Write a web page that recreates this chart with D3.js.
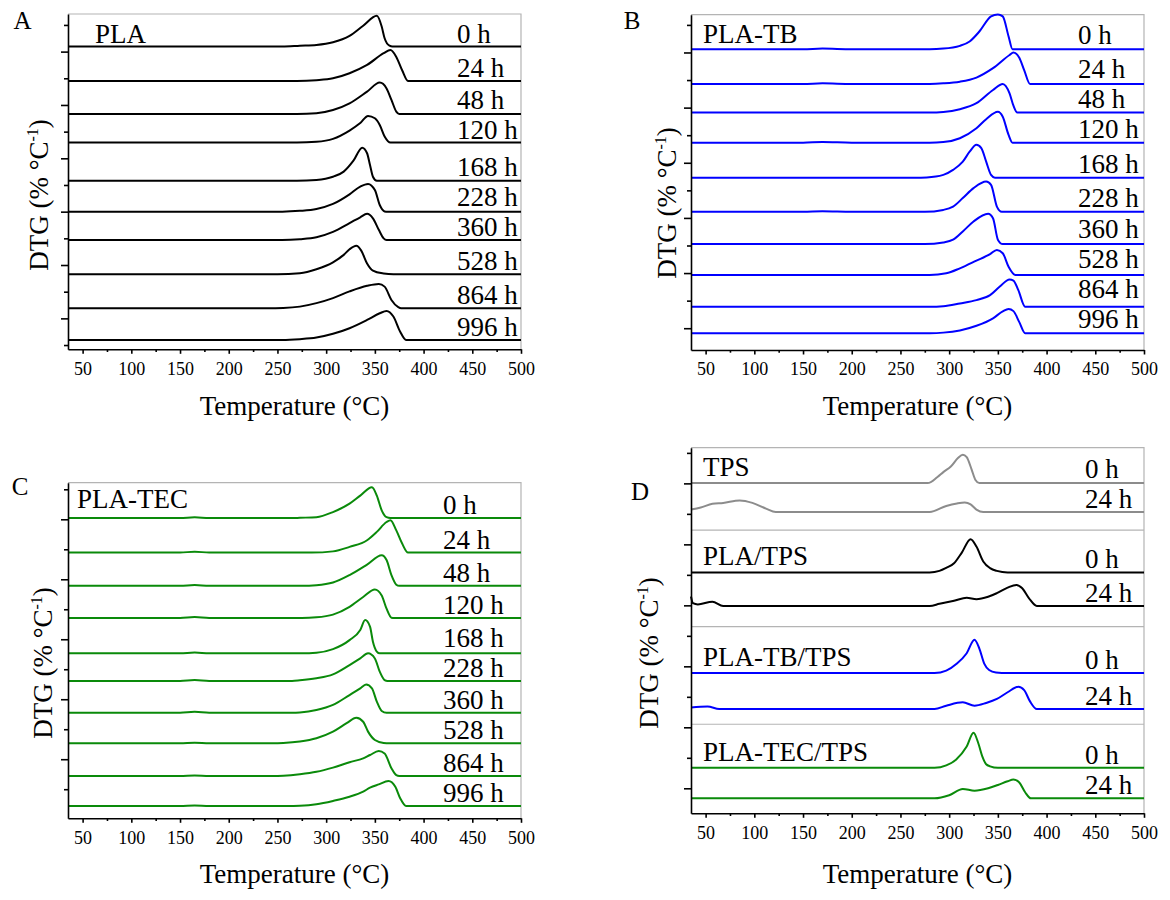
<!DOCTYPE html>
<html>
<head>
<meta charset="utf-8">
<script src="https://cdn.jsdelivr.net/npm/d3@7"></script>
<style>
    body { margin: 0; background: #fff; }
    svg { display: block; }
    text { font-family: "Liberation Serif", "Times New Roman", serif; fill: #000; }
</style>
</head>
<body>
<svg id="chart" width="1170" height="900"></svg>
<script>
// temperature axis, shared by all panels
const tempDomain = [35, 500];
const xTicks = [50, 100, 150, 200, 250, 300, 350, 400, 450, 500];
const xMinorTicks = [75, 125, 175, 225, 275, 325, 375, 425, 475];

// time labels
const hours = ["0 h", "24 h", "48 h", "120 h", "168 h", "228 h", "360 h", "528 h", "864 h", "996 h"];
const hoursD = ["0 h", "24 h", "0 h", "24 h", "0 h", "24 h", "0 h", "24 h"];

// vertical offsets of each trace (stacked, arbitrary units)
const offsetsA = [11.19, 9.9, 8.66, 7.59, 6.16, 5.0, 3.94, 2.65, 1.38, 0.19];
const offsetsB = [10.12, 8.86, 7.82, 6.73, 5.46, 4.22, 3.05, 1.93, 0.78, -0.18];
const offsetsC = [9.04, 7.89, 6.78, 5.71, 4.53, 3.61, 2.55, 1.53, 0.44, -0.56];
const offsetsD = [10.01, 9.06, 7.08, 5.98, 3.78, 2.6, 0.67, -0.33];

// DTG traces [temperature, height above own baseline]
const curvesA = [
    [[35,0],[255,0],[273,0.03],[290,0.06],[307,0.16],[324,0.4],[338,0.78],[352,1.15],[357,0.75],[360,0.31],[365,0.03],[368,0],[500,0]],
    [[35,0],[270,0],[290,0.03],[307,0.1],[324,0.29],[342,0.6],[359,1.04],[366,1.16],[372,0.9],[378,0.4],[384,0],[500,0]],
    [[35,0],[270,0],[290,0.03],[307,0.15],[324,0.4],[342,0.84],[355,1.18],[362,0.96],[367,0.53],[372,0.09],[375,0],[500,0]],
    [[35,0],[270,0],[290,0.03],[307,0.14],[324,0.45],[335,0.73],[343,1.0],[350,0.91],[355,0.66],[360,0.23],[366,0],[500,0]],
    [[35,0],[270,0],[290,0.03],[307,0.15],[318,0.34],[328,0.75],[337,1.24],[342,1.03],[345,0.59],[348,0.15],[352,0],[500,0]],
    [[35,0],[255,0],[273,0.03],[290,0.1],[307,0.29],[324,0.65],[335,0.94],[343,1.04],[350,0.81],[355,0.25],[360,0.01],[363,0],[500,0]],
    [[35,0],[255,0],[273,0.03],[290,0.1],[307,0.3],[324,0.63],[335,0.85],[342,0.98],[348,0.81],[354,0.38],[359,0.06],[362,0],[500,0]],
    [[35,0],[250,0],[273,0.04],[290,0.19],[307,0.45],[318,0.73],[324,0.94],[331,1.07],[336,0.89],[342,0.41],[348,0.14],[359,0.03],[369,0],[500,0]],
    [[35,0],[240,0],[256,0.01],[273,0.06],[290,0.19],[307,0.38],[324,0.63],[342,0.84],[354,0.91],[360,0.81],[367,0.31],[374,0.04],[377,0],[500,0]],
    [[35,0],[255,0],[273,0.03],[290,0.09],[307,0.23],[324,0.44],[342,0.75],[355,1.0],[362,1.09],[369,0.88],[376,0.31],[382,0],[500,0]]
];

const curvesB = [
    [[35,0],[150,0],[170,0.02],[200,0],[280,0],[294,0.02],[311,0.12],[321,0.28],[331,0.64],[343,1.19],[350,1.26],[355,1.19],[361,0.46],[365,0],[500,0]],
    [[35,0],[150,0],[170,0.02],[200,0],[280,0],[294,0.02],[311,0.08],[328,0.23],[345,0.57],[362,1.05],[366,1.14],[372,0.95],[377,0.5],[383,0],[500,0]],
    [[35,0],[280,0],[294,0.02],[311,0.12],[328,0.34],[345,0.82],[355,1.04],[362,0.7],[366,0.25],[370,0],[500,0]],
    [[35,0],[150,0],[170,0.02],[200,0],[280,0],[294,0.02],[311,0.16],[328,0.52],[338,0.85],[350,1.12],[355,0.94],[361,0.28],[365,0],[500,0]],
    [[35,0],[265,0],[277,0.01],[294,0.1],[304,0.28],[314,0.58],[321,0.94],[328,1.19],[333,1.07],[338,0.58],[343,0.1],[347,0],[500,0]],
    [[35,0],[150,0],[170,0.02],[200,0],[275,0],[294,0.07],[304,0.19],[314,0.5],[325,0.86],[338,1.1],[343,0.98],[349,0.19],[354,0],[500,0]],
    [[35,0],[275,0],[294,0.06],[304,0.16],[314,0.46],[325,0.82],[340,1.1],[345,0.94],[350,0.16],[355,0],[500,0]],
    [[35,0],[280,0],[297,0.06],[311,0.24],[328,0.52],[342,0.76],[349,0.91],[355,0.79],[361,0.3],[368,0],[500,0]],
    [[35,0],[280,0],[294,0.02],[311,0.12],[328,0.24],[342,0.42],[352,0.73],[362,0.99],[366,0.95],[371,0.6],[378,0],[500,0]],
    [[35,0],[280,0],[294,0.02],[311,0.1],[328,0.27],[345,0.54],[355,0.79],[361,0.88],[366,0.8],[372,0.4],[378,0],[500,0]]
];

const curvesC = [
    [[35,0],[150,0],[165,0.03],[180,0],[265,0],[273,0.01],[290,0.03],[307,0.2],[324,0.48],[335,0.75],[347,1.03],[352,0.75],[357,0.26],[362,0.03],[366,0],[500,0]],
    [[35,0],[150,0],[165,0.03],[180,0],[285,0],[307,0.04],[324,0.19],[342,0.41],[352,0.69],[362,1.02],[366,1.08],[372,0.74],[378,0.3],[384,0],[500,0]],
    [[35,0],[150,0],[165,0.03],[180,0],[275,0],[290,0.02],[307,0.11],[324,0.36],[342,0.71],[357,1.02],[362,0.86],[367,0.36],[372,0.04],[375,0],[500,0]],
    [[35,0],[150,0],[165,0.03],[180,0],[275,0],[290,0.02],[307,0.11],[324,0.37],[338,0.7],[350,0.95],[357,0.75],[362,0.31],[367,0.01],[370,0],[500,0]],
    [[35,0],[150,0],[165,0.03],[180,0],[275,0],[290,0.02],[307,0.14],[324,0.44],[335,0.78],[340,1.11],[345,0.89],[348,0.39],[352,0.06],[355,0],[500,0]],
    [[35,0],[150,0],[165,0.03],[180,0],[265,0],[273,0.02],[290,0.09],[307,0.22],[324,0.53],[335,0.75],[343,0.92],[350,0.75],[355,0.31],[360,0.03],[363,0],[500,0]],
    [[35,0],[150,0],[165,0.03],[180,0],[265,0],[273,0.01],[290,0.09],[307,0.26],[324,0.59],[335,0.81],[341,0.94],[347,0.81],[352,0.37],[357,0.06],[362,0],[500,0]],
    [[35,0],[150,0],[165,0.02],[180,0],[245,0],[256,0.01],[273,0.06],[290,0.17],[307,0.39],[321,0.67],[331,0.85],[338,0.72],[343,0.39],[350,0.11],[359,0.01],[365,0],[500,0]],
    [[35,0],[150,0],[165,0.02],[180,0],[245,0],[256,0.01],[273,0.06],[290,0.14],[307,0.28],[324,0.46],[338,0.59],[345,0.7],[354,0.83],[360,0.75],[367,0.26],[372,0.03],[375,0],[500,0]],
    [[35,0],[150,0],[165,0.02],[180,0],[260,0],[273,0.01],[290,0.06],[307,0.17],[324,0.31],[338,0.48],[345,0.61],[354,0.72],[364,0.83],[371,0.64],[376,0.26],[382,0],[500,0]]
];

const curvesD = [
    [[35,0],[278,0],[288,0.2],[294,0.36],[302,0.55],[309,0.82],[314,0.93],[318,0.85],[323,0.45],[327,0.1],[331,0],[500,0]],
    [[35,0.08],[45,0.15],[57,0.27],[68,0.3],[85,0.38],[98,0.3],[112,0.11],[122,0],[280,0],[297,0.2],[308,0.28],[316,0.31],[322,0.25],[328,0.08],[335,0],[500,0]],
    [[35,0],[280,0],[290,0.05],[297,0.15],[305,0.3],[313,0.65],[322,1.09],[328,0.85],[335,0.36],[342,0.14],[349,0.05],[360,0],[500,0]],
    [[35,0.31],[37,0.09],[42,0.05],[57,0.14],[68,0],[280,0],[290,0.07],[305,0.17],[318,0.27],[328,0.22],[340,0.3],[349,0.42],[360,0.6],[369,0.69],[375,0.58],[382,0.25],[390,0],[500,0]],
    [[35,0],[285,0],[297,0.08],[308,0.31],[318,0.65],[326,1.09],[331,0.8],[336,0.31],[341,0.1],[348,0.02],[360,0],[500,0]],
    [[35,0.05],[52,0.08],[64,0],[285,0],[297,0.11],[314,0.22],[326,0.11],[338,0.2],[349,0.33],[360,0.55],[371,0.73],[377,0.62],[383,0.25],[390,0],[500,0]],
    [[35,0],[285,0],[297,0.08],[307,0.27],[318,0.7],[325,1.15],[330,0.8],[334,0.38],[338,0.12],[342,0.05],[350,0],[500,0]],
    [[35,0],[285,0],[300,0.1],[314,0.31],[326,0.25],[340,0.33],[350,0.44],[360,0.56],[366,0.62],[372,0.52],[378,0.2],[384,0],[500,0]]
];

const groupsD = ["TPS", "PLA/TPS", "PLA-TB/TPS", "PLA-TEC/TPS"];
const groupColorsD = ["#8c8c8c", "#000000", "#0000ff", "#0a8a0a"];
const separatorsD = [8.47, 5.3, 2.1];

const svg = d3.select("#chart");
const labelGap = 30;

const panels = [
    { letter: "A", name: "PLA", color: "#000000", curves: curvesA, offsets: offsetsA, labels: hours,
      left: 68, right: 521, top: 14, bottom: 349.3, yDomain: [-0.16, 12.41],
      yMajor: [1, 3, 5, 7, 9, 11], yMinor: [0, 2, 4, 6, 8, 10, 12],
      labelX: 457, labelDy: 4, nameX: 95, nameY: 42.7, letterX: 22.5, letterY: 28.5,
      xTitleY: 415, yTitleX: 48, yTitleY: 195 },
    { letter: "B", name: "PLA-TB", color: "#0000ff", curves: curvesB, offsets: offsetsB, labels: hours,
      left: 691, right: 1144, top: 14.7, bottom: 350, yDomain: [-0.79, 11.37],
      yMajor: [0, 2, 4, 6, 8, 10], yMinor: [1, 3, 5, 7, 9, 11],
      labelX: 1078, labelDy: 5, nameX: 703, nameY: 42.7, letterX: 632, letterY: 29,
      xTitleY: 415, yTitleX: 676, yTitleY: 203 },
    { letter: "C", name: "PLA-TEC", color: "#0a8a0a", curves: curvesC, offsets: offsetsC, labels: hours,
      left: 68, right: 521, top: 482.7, bottom: 818.3, yDomain: [-0.97, 10.22],
      yMajor: [1, 3, 5, 7, 9], yMinor: [0, 2, 4, 6, 8, 10],
      labelX: 443, labelDy: 4, nameX: 77, nameY: 508.3, letterX: 20, letterY: 495,
      xTitleY: 883, yTitleX: 52, yTitleY: 663 },
    { letter: "D", name: null, color: null, curves: curvesD, offsets: offsetsD, labels: hoursD,
      left: 691, right: 1144, top: 447.7, bottom: 813.3, yDomain: [-0.82, 11.17],
      yMajor: [0, 2, 4, 6, 8, 10], yMinor: [1, 3, 5, 7, 9, 11],
      labelX: 1085, labelDy: 4, nameX: 703, nameY: null, letterX: 640, letterY: 500,
      xTitleY: 883, yTitleX: 658, yTitleY: 653 }
];

const drawPanel = (p) => {
    const xScale = d3.scaleLinear().domain(tempDomain).range([p.left, p.right]);
    const yScale = d3.scaleLinear().domain(p.yDomain).range([p.bottom, p.top]);
    const g = svg.append("g");

    // light frame on top and right
    g.append("path")
        .attr("d", `M${p.left},${p.top}H${p.right}V${p.bottom}`)
        .attr("fill", "none")
        .attr("stroke", "#b4b4b4")
        .attr("stroke-width", 1.2);

    if (p.letter === "D") {
        g.selectAll(".sep")
            .data(separatorsD)
            .join("line")
            .attr("x1", p.left).attr("x2", p.right)
            .attr("y1", d => yScale(d)).attr("y2", d => yScale(d))
            .attr("stroke", "#b4b4b4")
            .attr("stroke-width", 1.2);
    }

    const line = d3.line()
        .x(d => xScale(d[0]))
        .y(d => yScale(d[1]))
        .curve(d3.curveMonotoneX);

    const colorOf = i => p.color || groupColorsD[Math.floor(i / 2)];

    g.selectAll(".trace")
        .data(p.curves.map((c, i) => c.map(d => [d[0], d[1] + p.offsets[i]])))
        .join("path")
        .attr("d", line)
        .attr("fill", "none")
        .attr("stroke", (d, i) => colorOf(i))
        .attr("stroke-width", 2)
        .attr("stroke-linejoin", "round");

    // axes
    const xAxis = g.append("g")
        .attr("transform", `translate(0,${p.bottom})`)
        .call(d3.axisBottom(xScale).tickValues(xTicks).tickSize(4.5).tickSizeOuter(0).tickPadding(8));
    g.append("g")
        .attr("transform", `translate(0,${p.bottom})`)
        .call(d3.axisBottom(xScale).tickValues(xMinorTicks).tickSize(2.7).tickSizeOuter(0).tickFormat(""))
        .select(".domain").remove();
    xAxis.selectAll("text")
        .attr("font-size", 18)
        .attr("font-family", "Liberation Serif")
        .attr("fill", "#000");

    g.append("g")
        .attr("transform", `translate(${p.left},0)`)
        .call(d3.axisLeft(yScale).tickValues(p.yMajor).tickSize(7).tickSizeOuter(0).tickFormat(""));
    g.append("g")
        .attr("transform", `translate(${p.left},0)`)
        .call(d3.axisLeft(yScale).tickValues(p.yMinor).tickSize(4).tickSizeOuter(0).tickFormat(""))
        .select(".domain").remove();

    g.selectAll(".domain, .tick line")
        .attr("stroke", "#000")
        .attr("stroke-width", 1.6);

    // time labels just above each trace's baseline, kept apart from the one below
    const labelY = p.offsets.map(o => yScale(o) - p.labelDy);
    for (let i = labelY.length - 2; i >= 0; i--) {
        labelY[i] = Math.min(labelY[i], labelY[i + 1] - labelGap);
    }
    g.selectAll(".hlabel")
        .data(p.labels)
        .join("text")
        .attr("x", p.labelX)
        .attr("y", (d, i) => labelY[i])
        .attr("font-size", 27)
        .text(d => d);

    // sample names
    if (p.name) {
        g.append("text")
            .attr("x", p.nameX).attr("y", p.nameY)
            .attr("font-size", 27)
            .text(p.name);
    } else {
        g.selectAll(".gname")
            .data(groupsD)
            .join("text")
            .attr("x", p.nameX)
            .attr("y", (d, i) => yScale(p.offsets[i * 2]) - 7)
            .attr("font-size", 27)
            .text(d => d);
    }

    // panel letter
    g.append("text")
        .attr("x", p.letterX).attr("y", p.letterY)
        .attr("text-anchor", "middle")
        .attr("font-size", 25)
        .text(p.letter);

    // axis titles
    g.append("text")
        .attr("x", (p.left + p.right) / 2).attr("y", p.xTitleY)
        .attr("text-anchor", "middle")
        .attr("font-size", 27)
        .text("Temperature (°C)");

    const yTitle = g.append("text")
        .attr("transform", `translate(${p.yTitleX},${p.yTitleY}) rotate(-90)`)
        .attr("text-anchor", "middle")
        .attr("font-size", 27);
    yTitle.append("tspan").text("DTG (% °C");
    yTitle.append("tspan").attr("dy", -10).attr("font-size", 16).text("-1");
    yTitle.append("tspan").attr("dy", 10).text(")");
};

panels.forEach(drawPanel);
</script>
</body>
</html>
